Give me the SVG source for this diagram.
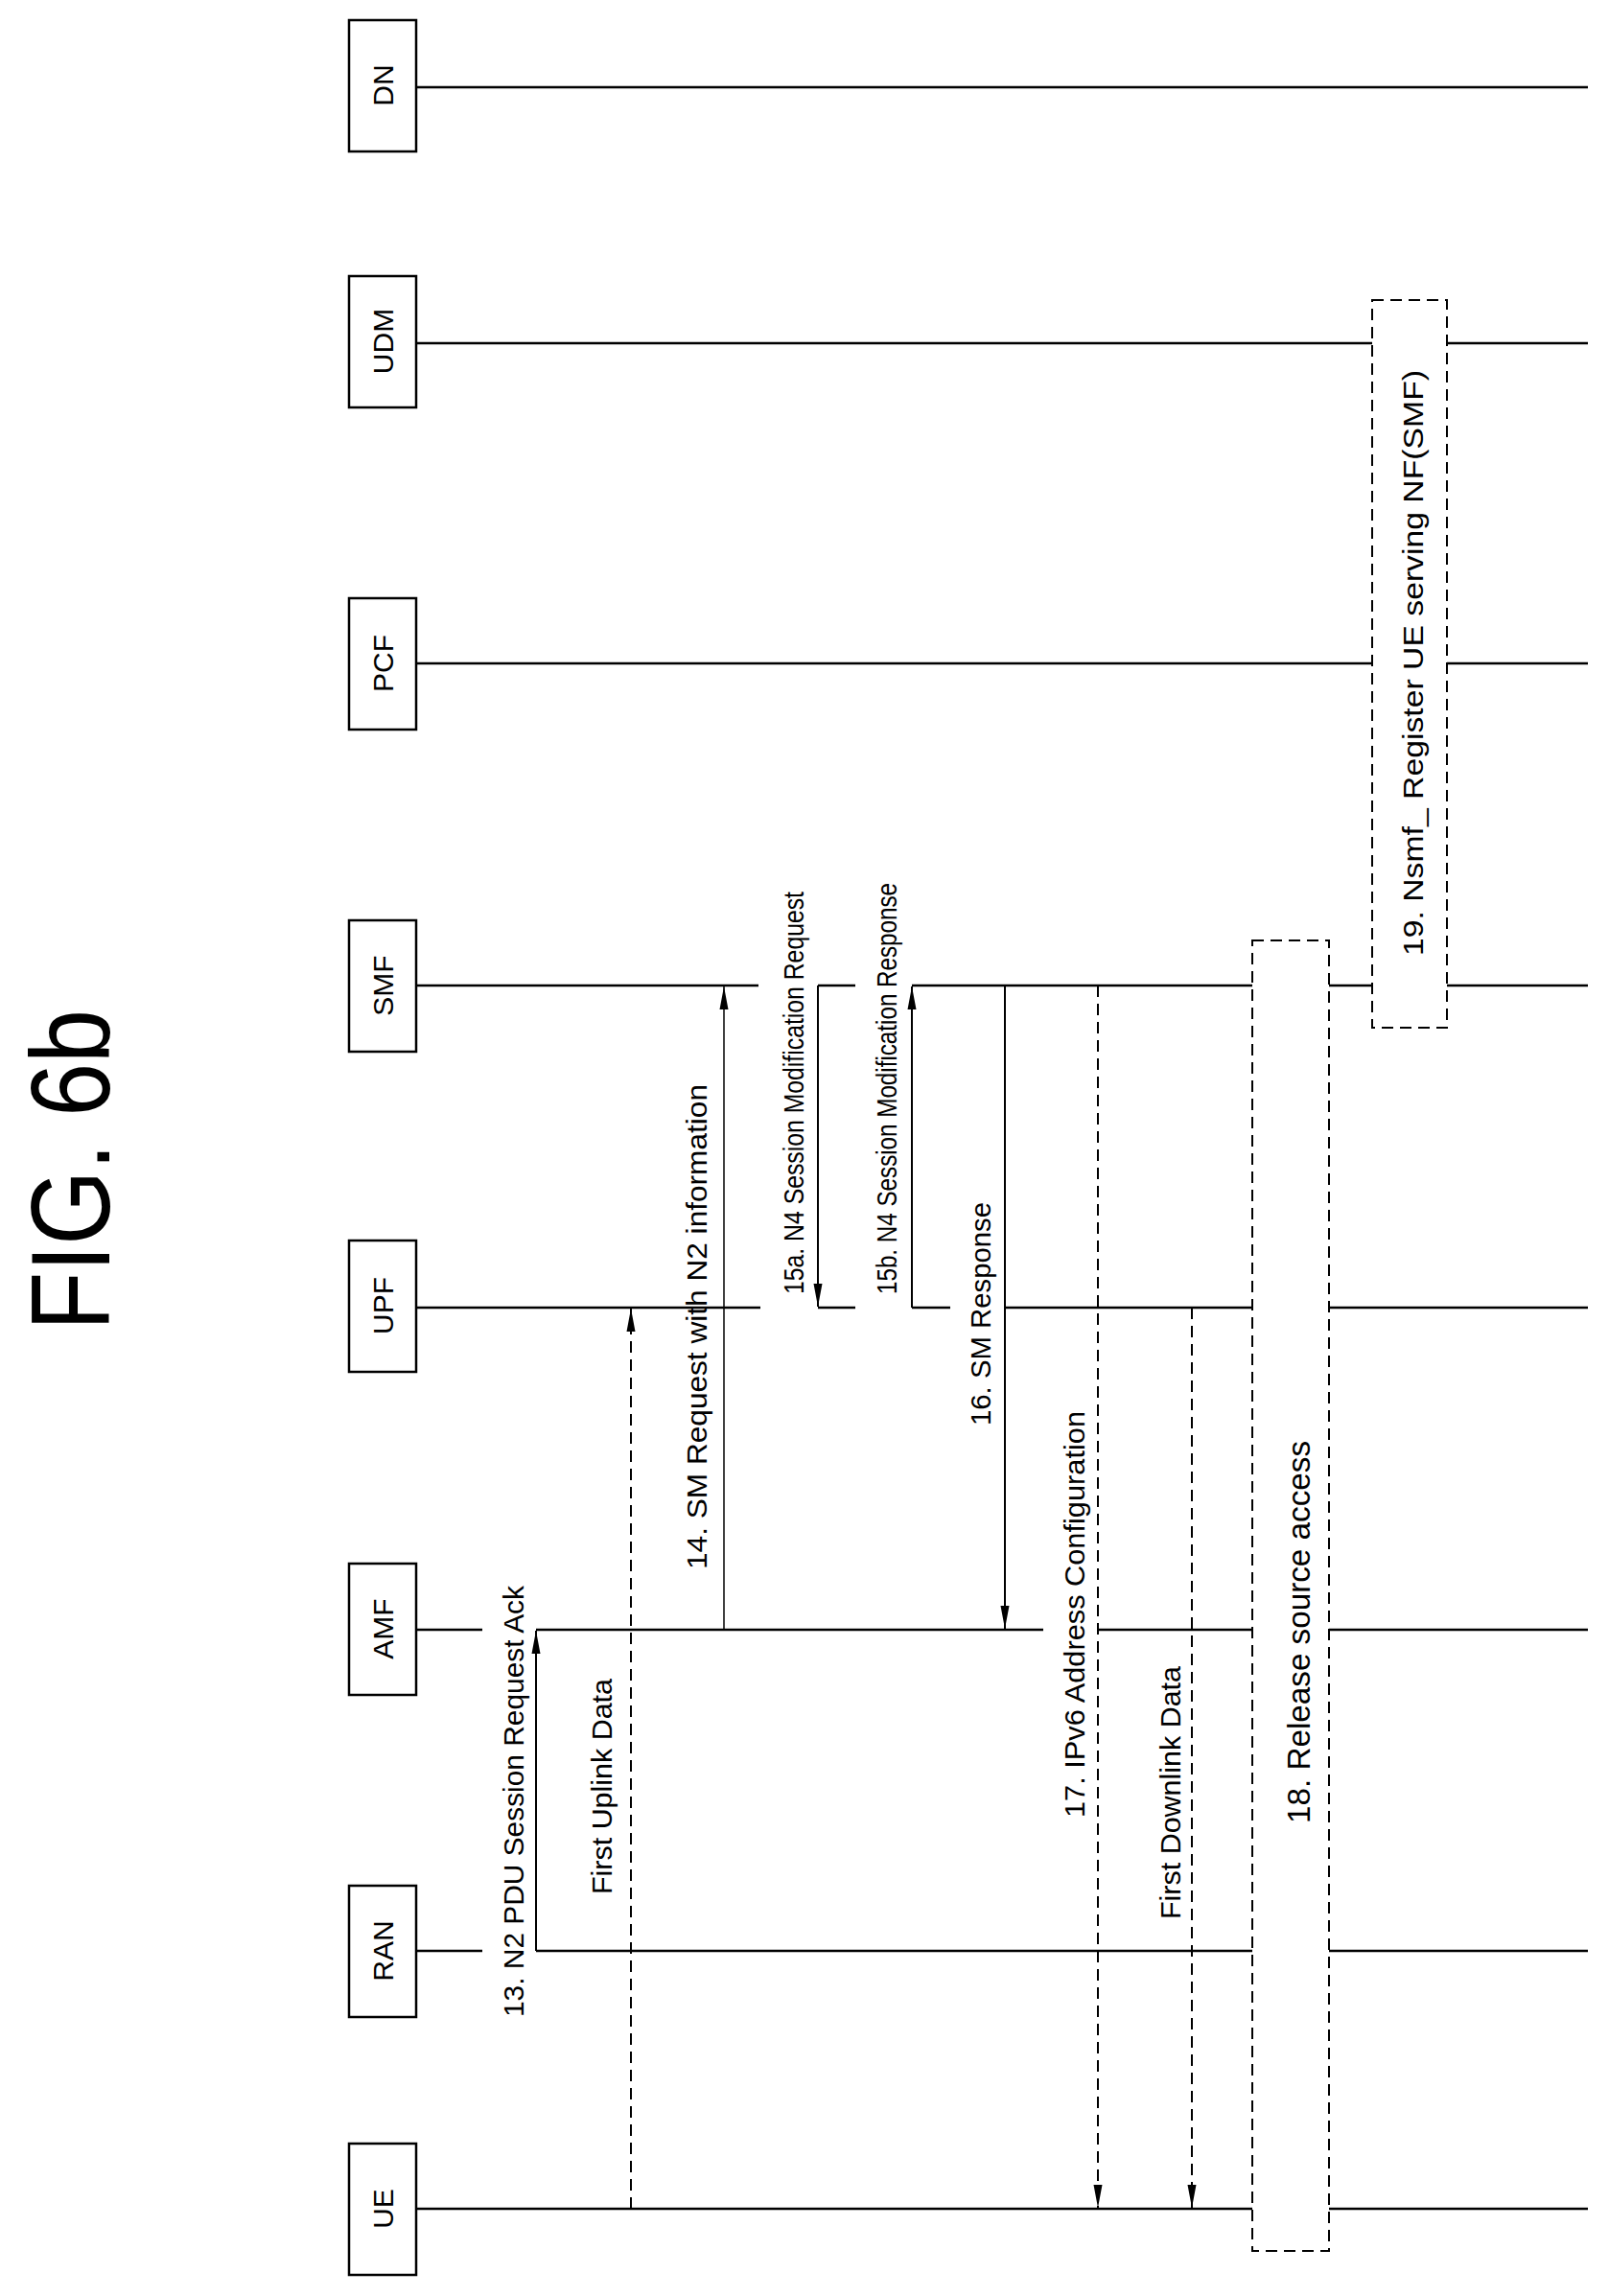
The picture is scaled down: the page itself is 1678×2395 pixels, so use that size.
<svg xmlns="http://www.w3.org/2000/svg" width="1678" height="2395" viewBox="0 0 1678 2395">
<style>
text{font-family:"Liberation Sans","DejaVu Sans",sans-serif;fill:#000}
.t{font-size:30px}
.b{font-size:30px;text-anchor:middle;dominant-baseline:central}
.box{fill:#fff;stroke:#000;stroke-width:2.5}
.life line{stroke:#000;stroke-width:2.5}
.m{stroke:#000;stroke-width:2;fill:none}
.d{stroke:#000;stroke-width:2;fill:none;stroke-dasharray:12,7}
.db{fill:none;stroke:#000;stroke-width:2;stroke-dasharray:12,7}
</style>
<defs>
<marker id="ah" viewBox="0 0 10 26" refX="10" refY="5" markerWidth="10" markerHeight="26" markerUnits="userSpaceOnUse" orient="auto" >
<path d="M0,0 L10,5 L0,10 Z" fill="#000"/>
</marker>
<marker id="a" viewBox="0 0 24 10" refX="24" refY="5" markerWidth="24" markerHeight="10" markerUnits="userSpaceOnUse" orient="auto">
<path d="M0,0.5 L24,5 L0,9.5 Z" fill="#000"/>
</marker>
</defs>
<text class="t" transform="translate(114,1388) rotate(-90)" style="font-size:117px" textLength="335" lengthAdjust="spacingAndGlyphs">FIG. 6b</text>

<g id="lifelines" class="life">
<line x1="434" y1="91" x2="1656" y2="91"/>
<line x1="434" y1="358" x2="1431" y2="358"/><line x1="1509" y1="358" x2="1656" y2="358"/>
<line x1="434" y1="692" x2="1431" y2="692"/><line x1="1509" y1="692" x2="1656" y2="692"/>
<line x1="434" y1="1028" x2="791" y2="1028"/><line x1="853" y1="1028" x2="892" y2="1028"/><line x1="951" y1="1028" x2="1306" y2="1028"/><line x1="1386" y1="1028" x2="1431" y2="1028"/><line x1="1509" y1="1028" x2="1656" y2="1028"/>
<line x1="434" y1="1364" x2="793" y2="1364"/><line x1="853" y1="1364" x2="892" y2="1364"/><line x1="951" y1="1364" x2="991" y2="1364"/><line x1="1048" y1="1364" x2="1306" y2="1364"/><line x1="1386" y1="1364" x2="1656" y2="1364"/>
<line x1="434" y1="1700" x2="503" y2="1700"/><line x1="559" y1="1700" x2="1088" y2="1700"/><line x1="1145" y1="1700" x2="1306" y2="1700"/><line x1="1386" y1="1700" x2="1656" y2="1700"/>
<line x1="434" y1="2035" x2="503" y2="2035"/><line x1="559" y1="2035" x2="1306" y2="2035"/><line x1="1386" y1="2035" x2="1656" y2="2035"/>
<line x1="434" y1="2304" x2="1306" y2="2304"/><line x1="1386" y1="2304" x2="1656" y2="2304"/>
</g>

<g id="DN"><rect class="box" x="364" y="21" width="70" height="137"/><text class="b" transform="translate(399,89) rotate(-90)">DN</text></g>
<g id="UDM"><rect class="box" x="364" y="288" width="70" height="137"/><text class="b" transform="translate(399,356) rotate(-90)">UDM</text></g>
<g id="PCF"><rect class="box" x="364" y="624" width="70" height="137"/><text class="b" transform="translate(399,692) rotate(-90)">PCF</text></g>
<g id="SMF"><rect class="box" x="364" y="960" width="70" height="137"/><text class="b" transform="translate(399,1028) rotate(-90)">SMF</text></g>
<g id="UPF"><rect class="box" x="364" y="1294" width="70" height="137"/><text class="b" transform="translate(399,1362) rotate(-90)">UPF</text></g>
<g id="AMF"><rect class="box" x="364" y="1631" width="70" height="137"/><text class="b" transform="translate(399,1699) rotate(-90)">AMF</text></g>
<g id="RAN"><rect class="box" x="364" y="1967" width="70" height="137"/><text class="b" transform="translate(399,2035) rotate(-90)">RAN</text></g>
<g id="UE"><rect class="box" x="364" y="2236" width="70" height="137"/><text class="b" transform="translate(399,2304) rotate(-90)">UE</text></g>

<g id="connectors">
<line class="m" x1="559" y1="2035" x2="559" y2="1701" marker-end="url(#a)"/>
<line class="d" x1="658" y1="2304" x2="658" y2="1365" marker-end="url(#a)"/>
<line class="m" x1="755" y1="1700" x2="755" y2="1029" marker-end="url(#a)" style="stroke-width:1.5"/>
<line class="m" x1="853" y1="1028" x2="853" y2="1363" marker-end="url(#a)"/>
<line class="m" x1="951" y1="1364" x2="951" y2="1029" marker-end="url(#a)"/>
<line class="m" x1="1048" y1="1028" x2="1048" y2="1699" marker-end="url(#a)"/>
<line class="d" x1="1145" y1="1028" x2="1145" y2="2303" marker-end="url(#a)"/>
<line class="d" x1="1243" y1="1364" x2="1243" y2="2303" marker-end="url(#a)"/>
</g>

<g id="box18"><rect class="db" x="1306" y="981" width="80" height="1367"/></g>
<g id="box19"><rect class="db" x="1431" y="313" width="78" height="759"/></g>

<g id="labels">
<text class="t" transform="translate(546,2104) rotate(-90)" textLength="450" lengthAdjust="spacingAndGlyphs">13. N2 PDU Session Request Ack</text>
<text class="t" transform="translate(638,1976) rotate(-90)" textLength="225" lengthAdjust="spacingAndGlyphs">First Uplink Data</text>
<text class="t" transform="translate(737,1637) rotate(-90)" textLength="506" lengthAdjust="spacingAndGlyphs">14. SM Request with N2 information</text>
<text class="t" transform="translate(838,1350) rotate(-90)" textLength="420" lengthAdjust="spacingAndGlyphs">15a. N4 Session Modification Request</text>
<text class="t" transform="translate(935,1350) rotate(-90)" textLength="429" lengthAdjust="spacingAndGlyphs">15b. N4 Session Modification Response</text>
<text class="t" transform="translate(1033,1487) rotate(-90)" textLength="233" lengthAdjust="spacingAndGlyphs">16. SM Response</text>
<text class="t" transform="translate(1131,1896) rotate(-90)" textLength="424" lengthAdjust="spacingAndGlyphs">17. IPv6 Address Configuration</text>
<text class="t" transform="translate(1231,2002) rotate(-90)" textLength="264" lengthAdjust="spacingAndGlyphs">First Downlink Data</text>
<text class="t" transform="translate(1366,1902) rotate(-90)" style="font-size:34px" textLength="399" lengthAdjust="spacingAndGlyphs">18. Release source access</text>
<text class="t" transform="translate(1484,997) rotate(-90)" textLength="611" lengthAdjust="spacingAndGlyphs">19. Nsmf_ Register UE serving NF(SMF)</text>
</g>
</svg>
